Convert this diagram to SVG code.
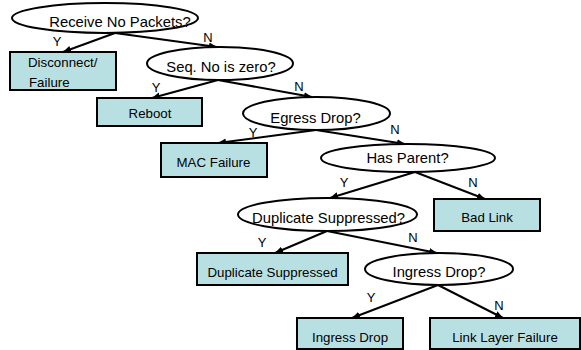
<svg xmlns="http://www.w3.org/2000/svg" width="581" height="350" viewBox="0 0 581 350">
<defs>
<marker id="ah" markerUnits="userSpaceOnUse" markerWidth="9" markerHeight="8" refX="8" refY="4" orient="auto">
<path d="M0,0.5 L8,4 L0,7.5 Z" fill="#000"/>
</marker>
<style>
.dec{fill:#fff;stroke:#000;stroke-width:2}
.box{fill:#b8e0e2;stroke:#000;stroke-width:2}
.t1{font-family:"Liberation Sans",Arial,sans-serif;font-size:14.8px;fill:#000;text-anchor:middle}
.t2{font-family:"Liberation Sans",Arial,sans-serif;font-size:13.3px;fill:#000;text-anchor:middle}
.lb{font-family:"Liberation Sans",Arial,sans-serif;font-size:13px;fill:#000;text-anchor:middle}
.c{stroke:#000;stroke-width:2;fill:none;marker-end:url(#ah)}
</style>
</defs>
<rect width="581" height="350" fill="#fff"/>
<g id="connectors">
<line class="c" x1="115" y1="33" x2="63" y2="52"/>
<line class="c" x1="115" y1="33" x2="217" y2="47"/>
<line class="c" x1="218" y1="80" x2="152" y2="98"/>
<line class="c" x1="218" y1="80" x2="312" y2="97"/>
<line class="c" x1="316" y1="130" x2="218" y2="143"/>
<line class="c" x1="316" y1="130" x2="405" y2="144"/>
<line class="c" x1="415" y1="172" x2="330" y2="198"/>
<line class="c" x1="415" y1="172" x2="485" y2="199"/>
<line class="c" x1="327" y1="231" x2="275" y2="253"/>
<line class="c" x1="327" y1="231" x2="437" y2="253"/>
<line class="c" x1="438" y1="285" x2="352" y2="318"/>
<line class="c" x1="438" y1="285" x2="503" y2="318"/>
<text class="lb" x="57" y="46">Y</text>
<text class="lb" x="208" y="42">N</text>
<text class="lb" x="156" y="92">Y</text>
<text class="lb" x="299" y="91">N</text>
<text class="lb" x="253" y="137">Y</text>
<text class="lb" x="395" y="134">N</text>
<text class="lb" x="344" y="187">Y</text>
<text class="lb" x="473" y="187">N</text>
<text class="lb" x="262" y="247">Y</text>
<text class="lb" x="413" y="242">N</text>
<text class="lb" x="371" y="302">Y</text>
<text class="lb" x="499" y="310">N</text>
</g>
<g id="receive">
<ellipse class="dec" cx="105" cy="18" rx="93" ry="15"/>
<text class="t1" x="120" y="27">Receive No Packets?</text>
</g>
<g id="disconnect">
<rect class="box" x="10" y="52" width="106" height="38"/>
<text class="t2" x="28" y="67" style="text-anchor:start">Disconnect/</text>
<text class="t2" x="29" y="87" style="text-anchor:start">Failure</text>
</g>
<g id="seqno">
<ellipse class="dec" cx="220" cy="63.5" rx="73" ry="16.5"/>
<text class="t1" x="221" y="72">Seq. No is zero?</text>
</g>
<g id="reboot">
<rect class="box" x="97" y="98" width="105" height="28"/>
<text class="t2" x="150" y="118">Reboot</text>
</g>
<g id="egress">
<ellipse class="dec" cx="316.5" cy="113.5" rx="73.5" ry="16.5"/>
<text class="t1" x="315.5" y="123">Egress Drop?</text>
</g>
<g id="mac">
<rect class="box" x="161" y="143" width="106" height="34"/>
<text class="t2" x="213.5" y="167">MAC Failure</text>
</g>
<g id="hasparent">
<ellipse class="dec" cx="408" cy="158" rx="87" ry="14"/>
<text class="t1" x="407.5" y="163">Has Parent?</text>
</g>
<g id="badlink">
<rect class="box" x="434" y="199" width="106" height="32"/>
<text class="t2" x="487" y="222">Bad Link</text>
</g>
<g id="dupq">
<ellipse class="dec" cx="327.5" cy="214.5" rx="89.5" ry="16.5"/>
<text class="t1" x="328.5" y="223">Duplicate Suppressed?</text>
</g>
<g id="dup">
<rect class="box" x="197" y="253" width="151" height="32"/>
<text class="t2" x="272.5" y="277">Duplicate Suppressed</text>
</g>
<g id="ingressq">
<ellipse class="dec" cx="439" cy="269" rx="74" ry="16"/>
<text class="t1" x="439" y="277">Ingress Drop?</text>
</g>
<g id="ingress">
<rect class="box" x="297" y="318" width="106" height="31"/>
<text class="t2" x="350" y="342">Ingress Drop</text>
</g>
<g id="linklayer">
<rect class="box" x="430" y="318" width="150" height="31"/>
<text class="t2" x="505" y="342">Link Layer Failure</text>
</g>
</svg>
